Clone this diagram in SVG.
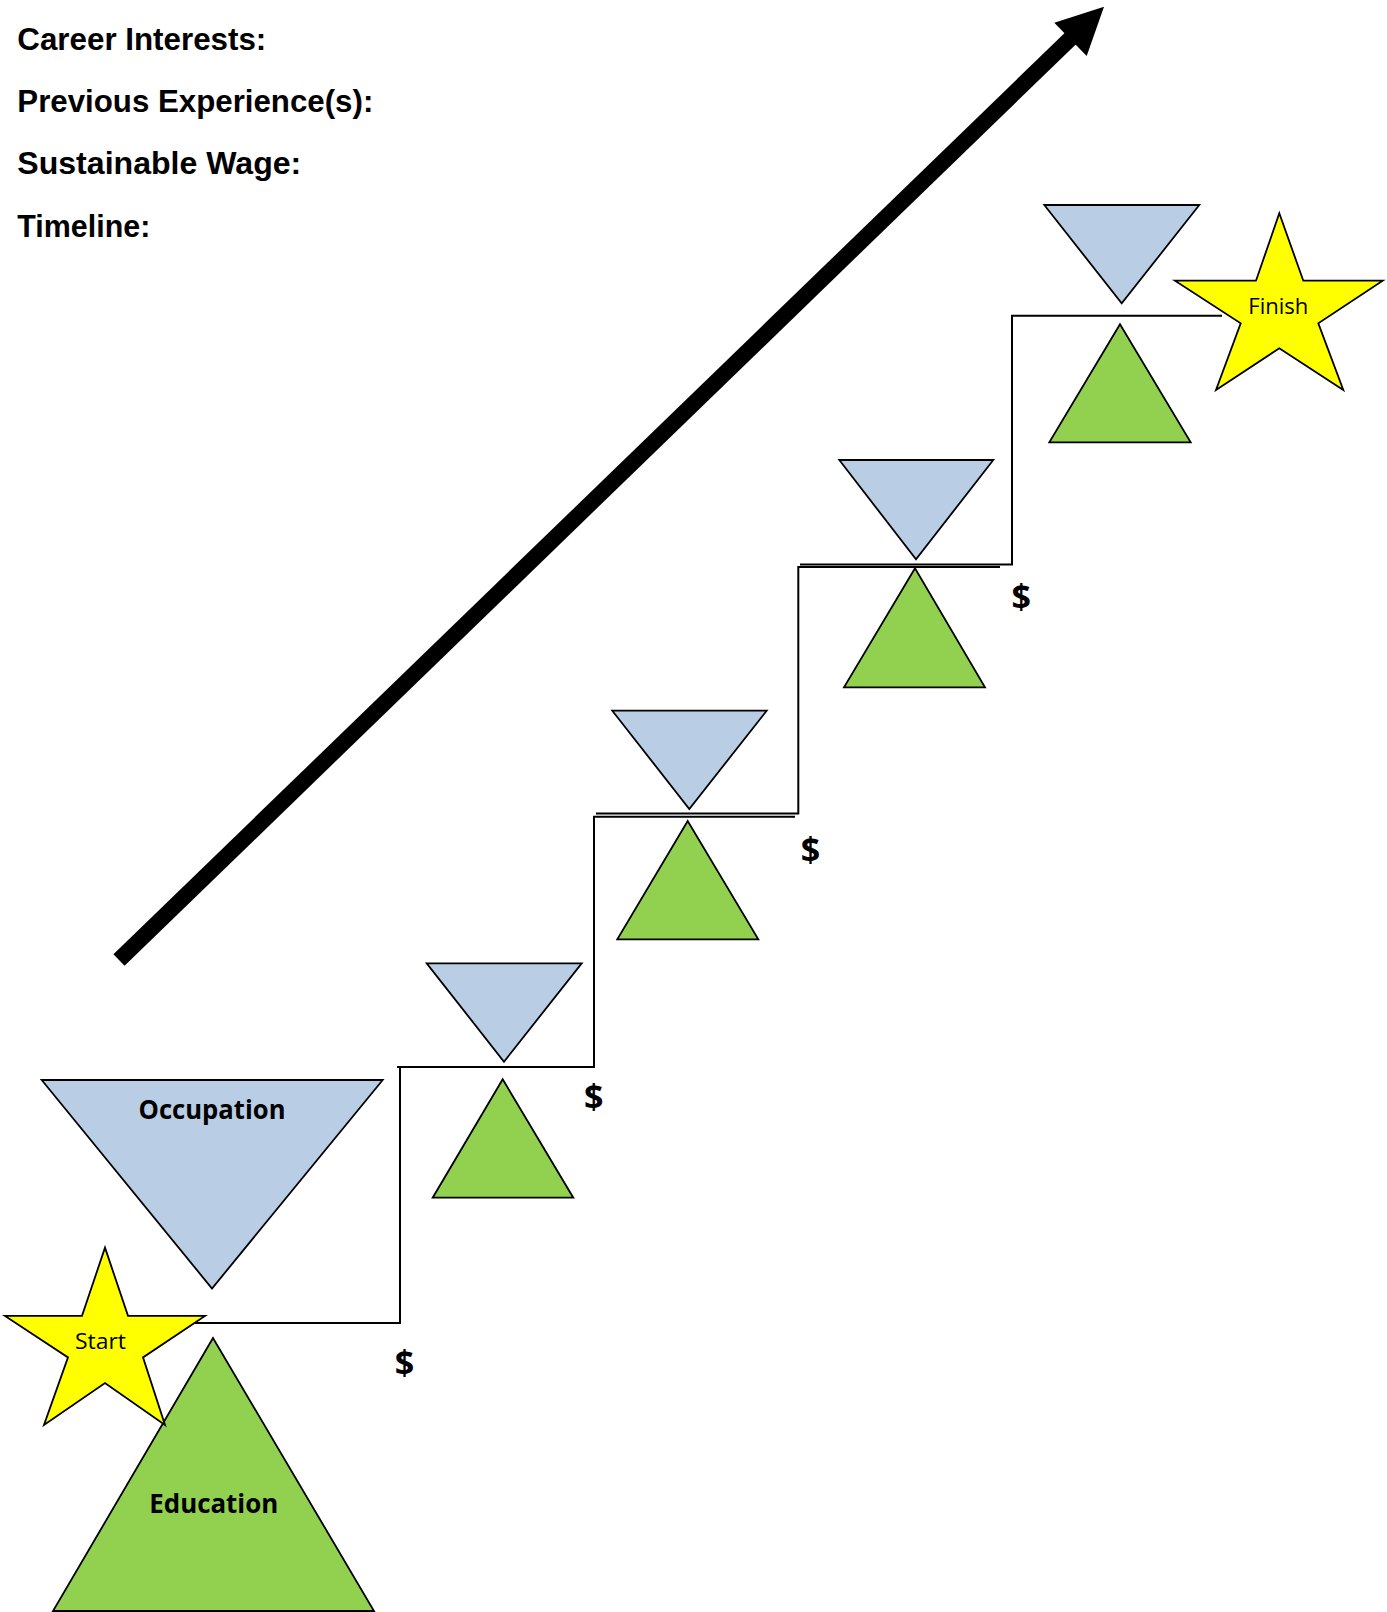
<svg xmlns="http://www.w3.org/2000/svg" width="1387" height="1612" viewBox="0 0 1387 1612">
<style>
.hdr{font-family:"Liberation Sans",Arial,sans-serif;font-weight:bold;font-size:30.5px;fill:#000}
.occ{fill:#B9CDE5;stroke:#000;stroke-width:1.8;stroke-linejoin:miter}
.edu{fill:#92D050;stroke:#000;stroke-width:1.8;stroke-linejoin:miter}
.star{fill:#FFFF00;stroke:#000;stroke-width:1.8;stroke-linejoin:miter}
.lbl{font-family:"Open Sans","Liberation Sans",sans-serif;font-weight:bold;font-size:27px;fill:#000;text-anchor:middle}
.stl{font-family:"Open Sans","Liberation Sans",sans-serif;font-size:22px;fill:#000;text-anchor:middle}
.dol{font-family:"Open Sans","Liberation Sans",sans-serif;font-weight:bold;font-size:34px;fill:#000;text-anchor:middle}
.step{fill:none;stroke:#000;stroke-width:2}
</style>
<rect width="1387" height="1612" fill="#fff"/>
<g id="header">
<text class="hdr" x="17.3" y="50" textLength="249" lengthAdjust="spacingAndGlyphs">Career Interests:</text>
<text class="hdr" x="17.3" y="111.5" textLength="356" lengthAdjust="spacingAndGlyphs">Previous Experience(s):</text>
<text class="hdr" x="17.3" y="174" textLength="284" lengthAdjust="spacingAndGlyphs">Sustainable Wage:</text>
<text class="hdr" x="17.3" y="237" textLength="133" lengthAdjust="spacingAndGlyphs">Timeline:</text>
</g>
<g id="connectors">
<line x1="119" y1="960" x2="1072" y2="37" stroke="#000" stroke-width="16" stroke-linecap="butt"/>
<polygon points="1104,6.7 1054.3,22.7 1086.7,56" fill="#000"/>
<path class="step" d="M190,1323 H400 V1068"/>
<path class="step" d="M397,1067 H594 V816.7 H795"/>
<path class="step" d="M596,813.5 H798.3 V567 H1000"/>
<path class="step" d="M800,564.5 H1012 V315.7 H1222"/>
</g>
<g id="occupation">
<polygon class="occ" points="41.7,1080 382.7,1080 212,1288.5"/>
<text class="lbl" x="212" y="1118.5" textLength="147" lengthAdjust="spacingAndGlyphs">Occupation</text>
</g>
<g id="education">
<polygon class="edu" points="213,1338 53,1611 374,1611"/>
<text class="lbl" x="213.8" y="1512.5" textLength="129" lengthAdjust="spacingAndGlyphs">Education</text>
</g>
<g id="start">
<polygon class="star" points="105,1247.6 128,1315.9 205,1315.9 143,1357.4 165,1425 105,1383 44,1425 68,1357.4 5,1315.9 82,1315.9"/>
<text class="stl" x="100.5" y="1349" textLength="51" lengthAdjust="spacingAndGlyphs">Start</text>
</g>
<g id="step1">
<polygon class="occ" points="426.7,963.3 581.7,963.3 504,1061.7"/>
<polygon class="edu" points="502.7,1079.3 432.7,1197.7 573.3,1197.7"/>
</g>
<g id="step2">
<polygon class="occ" points="612.3,710.7 766.7,710.7 689.3,809"/>
<polygon class="edu" points="687.7,821 617.3,939.3 758.3,939.3"/>
</g>
<g id="step3">
<polygon class="occ" points="839.3,460 993.3,460 916,559.3"/>
<polygon class="edu" points="915,568.3 844,687.3 985,687.3"/>
</g>
<g id="step4">
<polygon class="occ" points="1044.3,205 1199.3,205 1121.7,303.3"/>
<polygon class="edu" points="1120,324.3 1049.3,442.3 1190.7,442.3"/>
</g>
<g id="finish">
<polygon class="star" points="1279.3,213.3 1303.3,280.7 1382.7,280.7 1318.3,323.3 1343.3,390 1279.3,348.3 1216,390 1240.7,323.3 1175,280.7 1256,280.7"/>
<text class="stl" x="1278.3" y="314" textLength="60" lengthAdjust="spacingAndGlyphs">Finish</text>
</g>
<g id="wages">
<text class="dol" x="404.5" y="1375">$</text>
<text class="dol" x="593.8" y="1109">$</text>
<text class="dol" x="810.5" y="862">$</text>
<text class="dol" x="1021.3" y="609">$</text>
</g>
</svg>
